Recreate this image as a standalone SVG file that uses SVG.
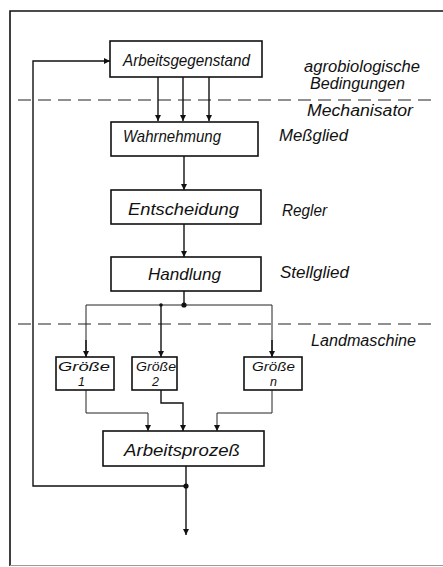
<svg xmlns="http://www.w3.org/2000/svg" width="443" height="567" viewBox="0 0 443 567">
<style>
.box{fill:#fff;stroke:#111;stroke-width:1.6}
.t{font-family:"Liberation Sans","DejaVu Sans",sans-serif;font-style:italic;fill:#111}
.bt{font-size:17px}
.lb{font-size:16px}
.gb{font-size:12.5px}
.ln{fill:none;stroke:#111;stroke-width:1.4}
.thin{fill:none;stroke:#222;stroke-width:1}
.dash{fill:none;stroke:#222;stroke-width:1.2;stroke-dasharray:13 7}
</style>
<defs>
<marker id="ah" viewBox="0 0 10 10" refX="10" refY="5" markerWidth="10" markerHeight="6" markerUnits="userSpaceOnUse" orient="auto">
<path d="M0,0 L10,5 L0,10 z" fill="#111"/>
</marker>
</defs>
<rect width="443" height="567" fill="#fff"/>
<g id="frame">
<path d="M10,566 L10,11 L443,11" fill="none" stroke="#111" stroke-width="1.6"/>
<path d="M10,565.5 L443,565.5" fill="none" stroke="#999" stroke-width="1"/>
</g>
<g id="separators">
<line class="dash" x1="18" y1="100" x2="433" y2="100"/>
<line class="dash" x1="18" y1="324" x2="433" y2="324"/>
</g>
<g id="connectors">
<path class="ln" d="M186,486 L33,486 L33,61 L110,61" marker-end="url(#ah)"/>
<line class="ln" x1="158" y1="77" x2="158" y2="121" marker-end="url(#ah)"/>
<line class="ln" x1="183" y1="77" x2="183" y2="121" marker-end="url(#ah)"/>
<line class="ln" x1="209" y1="77" x2="209" y2="121" marker-end="url(#ah)"/>
<line class="ln" x1="184" y1="156" x2="184" y2="190" marker-end="url(#ah)"/>
<line class="ln" x1="184" y1="224" x2="184" y2="257" marker-end="url(#ah)"/>
<line class="ln" x1="184" y1="291" x2="184" y2="305"/>
<path class="thin" d="M86,357 L86,305 L272,305 L272,357"/>
<line class="ln" x1="86" y1="340" x2="86" y2="357" marker-end="url(#ah)"/>
<line class="ln" x1="161" y1="305" x2="161" y2="357" marker-end="url(#ah)"/>
<line class="ln" x1="272" y1="340" x2="272" y2="357" marker-end="url(#ah)"/>
<circle cx="184" cy="305" r="2.6" fill="#111"/>
<circle cx="161" cy="305" r="1.8" fill="#111"/>
<path class="thin" d="M86,390 L86,413 L148,413 L148,431" marker-end="url(#ah)"/>
<path class="ln" d="M161,390 L161,403 L183,403 L183,431" marker-end="url(#ah)"/>
<path class="thin" d="M272,390 L272,413 L217,413 L217,431" marker-end="url(#ah)"/>
<line class="ln" x1="186" y1="466" x2="186" y2="535" marker-end="url(#ah)"/>
<circle cx="186" cy="486" r="2.6" fill="#111"/>
</g>
<g id="arbeitsgegenstand">
<rect class="box" x="110" y="41" width="152" height="36"/>
<text class="t bt" x="123" y="66" textLength="127" lengthAdjust="spacingAndGlyphs">Arbeitsgegenstand</text>
</g>
<g id="wahrnehmung">
<rect class="box" x="111" y="122" width="147" height="34"/>
<text class="t bt" x="123" y="142" textLength="98" lengthAdjust="spacingAndGlyphs">Wahrnehmung</text>
</g>
<g id="entscheidung">
<rect class="box" x="111" y="190" width="150" height="34"/>
<text class="t bt" x="128" y="215" textLength="111" lengthAdjust="spacingAndGlyphs">Entscheidung</text>
</g>
<g id="handlung">
<rect class="box" x="111" y="257" width="150" height="34"/>
<text class="t bt" x="148" y="280" textLength="73" lengthAdjust="spacingAndGlyphs">Handlung</text>
</g>
<g id="groesse1">
<rect class="box" x="56" y="357" width="58" height="33"/>
<text class="t gb" x="58" y="371" textLength="52" lengthAdjust="spacingAndGlyphs">Größe</text>
<text class="t gb" x="78" y="386">1</text>
</g>
<g id="groesse2">
<rect class="box" x="132" y="357" width="45" height="33"/>
<text class="t gb" x="136" y="371" textLength="40" lengthAdjust="spacingAndGlyphs">Größe</text>
<text class="t gb" x="152" y="386">2</text>
</g>
<g id="groessen">
<rect class="box" x="244" y="357" width="58" height="33"/>
<text class="t gb" x="252" y="371" textLength="43" lengthAdjust="spacingAndGlyphs">Größe</text>
<text class="t gb" x="270" y="386">n</text>
</g>
<g id="arbeitsprozess">
<rect class="box" x="103" y="431" width="161" height="35"/>
<text class="t bt" x="124" y="456" textLength="116" lengthAdjust="spacingAndGlyphs">Arbeitsprozeß</text>
</g>
<g id="labels">
<text class="t lb" x="304" y="72" textLength="116" lengthAdjust="spacingAndGlyphs">agrobiologische</text>
<text class="t lb" x="310" y="89" textLength="95" lengthAdjust="spacingAndGlyphs">Bedingungen</text>
<text class="t lb" x="307" y="116" textLength="106" lengthAdjust="spacingAndGlyphs">Mechanisator</text>
<text class="t lb" x="279" y="141" textLength="69" lengthAdjust="spacingAndGlyphs">Meßglied</text>
<text class="t lb" x="282" y="216" textLength="45" lengthAdjust="spacingAndGlyphs">Regler</text>
<text class="t lb" x="280" y="278" textLength="69" lengthAdjust="spacingAndGlyphs">Stellglied</text>
<text class="t lb" x="311" y="346" textLength="105" lengthAdjust="spacingAndGlyphs">Landmaschine</text>
</g>
</svg>
